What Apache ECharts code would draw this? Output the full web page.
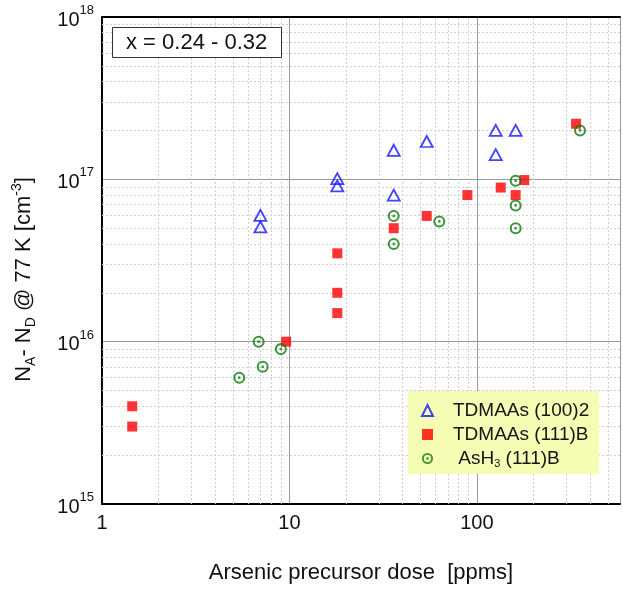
<!DOCTYPE html>
<html>
<head>
<meta charset="utf-8">
<script src="https://cdn.jsdelivr.net/npm/echarts@6/dist/echarts.min.js"></script>
<style>
html,body{margin:0;padding:0;background:#fff;overflow:hidden;}
#c{width:623px;height:591px;}
</style>
</head>
<body>
<div id="c"></div>
<script>
// ---- data ----
const tdmaas100X = [7.0, 7.0, 18, 18, 36, 36, 54, 126, 126, 161];
const tdmaas100Y = [6.0e16, 5.1e16, 1.01e17, 9.1e16, 1.51e17, 8.0e16, 1.71e17, 2.0e17, 1.42e17, 2.0e17];

const tdmaas111X = [1.45, 1.45, 9.6, 18, 18, 18, 36, 54, 89, 134, 161, 179, 338];
const tdmaas111Y = [4.0e15, 3.0e15, 1.0e16, 3.5e16, 2.0e16, 1.5e16, 5.0e16, 5.95e16, 8.0e16, 8.9e16, 8.0e16, 9.9e16, 2.2e17];

const ash3X = [5.4, 6.85, 7.2, 9.0, 36, 36, 63, 161, 161, 161, 355];
const ash3Y = [6.0e15, 1.0e16, 7.0e15, 9.0e15, 5.95e16, 4.0e16, 5.5e16, 9.8e16, 6.9e16, 5.0e16, 2.0e17];

const seriesNames = ['TDMAAs (100)2', 'TDMAAs (111)B', 'AsH3 (111)B'];
const xRange = [1, 580];
const yRange = [1e15, 1e18];
const xDecades = [1, 10, 100];
const yDecades = [1e15, 1e16, 1e17];
const annotation = 'x = 0.24 - 0.32';

// ---- helpers ----
function pairs(xs, ys) { return xs.map((x, i) => [x, ys[i]]); }
function minorValues(decades, limit) {
  const out = [];
  decades.forEach(d => { for (let k = 2; k <= 9; k++) { const v = d * k; if (v < limit) out.push(v); } });
  return out;
}
function isPow10(v) { const l = Math.log10(v); return Math.abs(l - Math.round(l)) < 1e-6; }

const ringPath = 'path://M0,-10A10,10 0 1,1 0,10A10,10 0 1,1 0,-10Z' +
  'M0,-6.6A6.6,6.6 0 1,0 0,6.6A6.6,6.6 0 1,0 0,-6.6Z' +
  'M0,-2.3A2.3,2.3 0 1,1 0,2.3A2.3,2.3 0 1,1 0,-2.3Z';

const BLUE = '#1414ff', RED = '#ff0000', GREEN = '#0b7a0b';
const FONT = 'Liberation Sans, Arial, sans-serif';

const minorLines = minorValues(xDecades, xRange[1]).map(v => ({ xAxis: v }))
  .concat(minorValues(yDecades, yRange[1]).map(v => ({ yAxis: v })));

const chart = echarts.init(document.getElementById('c'), null, { renderer: 'canvas' });
chart.setOption({
  animation: false,
  backgroundColor: '#fff',
  textStyle: { fontFamily: FONT },
  grid: { left: 102, top: 17, right: 0, bottom: 82, containLabel: false },
  title: {
    text: annotation, left: 112, top: 27, z: 10,
    borderColor: '#333', borderWidth: 1, padding: [3, 14, 3, 14],
    backgroundColor: '#fff',
    textStyle: { fontSize: 22, fontWeight: 'normal', color: '#111', fontFamily: FONT, lineHeight: 25 }
  },
  legend: {
    left: 408, top: 391, orient: 'vertical', z: 10,
    backgroundColor: '#f5fcb3',
    padding: [9, 10, 5, 13],
    itemWidth: 11, itemHeight: 11, itemGap: 3,
    data: [
      { name: seriesNames[0], icon: 'triangle', itemStyle: { color: 'rgba(255,255,255,0)', borderColor: BLUE, borderWidth: 2 } },
      { name: seriesNames[1], icon: 'rect', itemStyle: { color: RED, borderWidth: 0 } },
      { name: seriesNames[2], icon: ringPath, itemStyle: { color: GREEN, borderWidth: 0 } }
    ],
    formatter: function (n) {
      if (n === seriesNames[2]) return ' AsH{sub|3} (111)B';
      return n;
    },
    textStyle: {
      fontSize: 19, color: '#151515', fontFamily: FONT, lineHeight: 21, padding: [0, 0, 0, 15],
      rich: { sub: { fontSize: 11, verticalAlign: 'bottom', lineHeight: 6, color: '#151515', fontFamily: FONT } }
    }
  },
  xAxis: [{
    type: 'log', logBase: 10, min: xRange[0], max: xRange[1], position: 'bottom',
    name: 'Arsenic precursor dose  [ppms]', nameLocation: 'middle', nameGap: 56,
    nameTextStyle: { fontSize: 22, color: '#111', fontFamily: FONT, lineHeight: 26 },
    axisLine: { show: true, lineStyle: { color: '#000', width: 2 } },
    axisTick: { show: false },
    axisLabel: { fontSize: 20, color: '#111', margin: 9, fontFamily: FONT,
      formatter: v => isPow10(v) ? String(Math.round(v)) : '' },
    splitLine: { show: true, lineStyle: { color: '#9a9a9a', width: 1 } },
    minorTick: { show: false }, minorSplitLine: { show: false }
  }, {
    type: 'log', logBase: 10, min: xRange[0], max: xRange[1], position: 'top',
    axisLine: { show: true, onZero: false, lineStyle: { color: '#000', width: 2 } },
    axisTick: { show: false }, axisLabel: { show: false }, splitLine: { show: false }
  }],
  yAxis: {
    type: 'log', logBase: 10, min: yRange[0], max: yRange[1],
    name: 'N{sub|A}- N{sub|D} @ 77 K [cm{sup|-3}]', nameLocation: 'middle', nameGap: 64,
    nameTextStyle: {
      fontSize: 22, color: '#111', fontFamily: FONT, lineHeight: 28, padding: [0, 38, 0, 0],
      rich: {
        sub: { fontSize: 14, verticalAlign: 'bottom', lineHeight: 10, color: '#111', fontFamily: FONT },
        sup: { fontSize: 14, verticalAlign: 'top', lineHeight: 10, color: '#111', fontFamily: FONT }
      }
    },
    axisLine: { show: true, lineStyle: { color: '#000', width: 2 } },
    axisTick: { show: false },
    axisLabel: {
      margin: 8, color: '#111', fontFamily: FONT,
      formatter: v => '{b|10}{s|' + Math.round(Math.log10(v)) + '}',
      rich: {
        b: { fontSize: 20, lineHeight: 26, verticalAlign: 'bottom', color: '#111', fontFamily: FONT },
        s: { fontSize: 13, verticalAlign: 'top', color: '#111', fontFamily: FONT }
      }
    },
    splitLine: { show: true, lineStyle: { color: '#9a9a9a', width: 1 } },
    minorTick: { show: false }, minorSplitLine: { show: false }
  },
  series: [
    {
      name: 'minor-grid', type: 'line', data: [], silent: true, z: 1,
      markLine: {
        z: 1, silent: true, symbol: ['none', 'none'], label: { show: false },
        lineStyle: { color: '#cfcfcf', width: 1, type: [2, 2] },
        emphasis: { disabled: true },
        data: minorLines
      }
    },
    {
      name: seriesNames[0], type: 'scatter', z: 3, data: pairs(tdmaas100X, tdmaas100Y),
      symbol: 'triangle', symbolSize: [12, 11],
      itemStyle: { color: 'rgba(255,255,255,0)', borderColor: BLUE, borderWidth: 1.8 }
    },
    {
      name: seriesNames[1], type: 'scatter', z: 4, data: pairs(tdmaas111X, tdmaas111Y),
      symbol: 'rect', symbolSize: 10,
      itemStyle: { color: RED }
    },
    {
      name: seriesNames[2], type: 'scatter', z: 5, data: pairs(ash3X, ash3Y),
      symbol: ringPath, symbolSize: 12,
      itemStyle: { color: GREEN }
    }
  ]
});
</script>
</body>
</html>
